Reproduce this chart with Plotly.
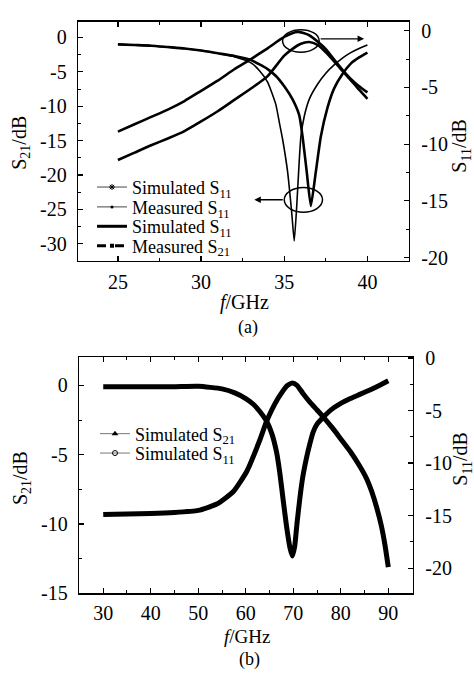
import plotly.graph_objects as go

# ---------------- data: panel (a) ----------------
# curves read against the left axis (sharp dips)
freq_a_sim = [25, 26, 27, 28, 29, 30, 31, 32, 33, 33.5, 34, 34.5, 34.7, 34.9, 35.2, 35.45, 35.6,
              35.75, 35.9, 36.0, 36.2, 36.5, 37, 37.5, 38, 38.5, 39, 39.5, 40]
s11_a_sim = [-1.0, -1.1, -1.2, -1.4, -1.6, -1.9, -2.3, -2.8, -3.7, -4.8, -6.5, -9.8, -12.3, -14.8, -19.5, -25.5,
             -29.6, -24.5, -18.0, -14.4, -11.5, -9.0, -6.8, -5.2, -4.0, -3.0, -2.2, -1.6, -1.1]
freq_a_meas = [25, 26, 27, 28, 29, 30, 31, 32, 33, 34, 34.5, 35, 35.5, 35.9, 36.1, 36.35, 36.6,
               36.9, 37.2, 37.6, 38, 38.5, 39, 39.5, 40]
s11_a_meas = [-1.0, -1.1, -1.2, -1.4, -1.6, -1.9, -2.3, -2.7, -3.3, -4.6, -5.6, -7.1, -9.0, -11.3, -14.4, -19.5,
              -24.5, -19.5, -14.4, -10.2, -7.4, -5.3, -3.8, -2.9, -2.2]
# curves read against the right axis (peaks)
freq_a_s21_sim = [25, 26, 27, 28, 29, 30, 31, 32, 33, 34, 35, 35.8, 36.5, 37, 37.5, 38, 38.5, 39, 39.5, 40]
s21_a_sim = [-8.9, -8.25, -7.6, -6.95, -6.2, -5.3, -4.4, -3.4, -2.5, -1.55, -0.55, -0.1, -0.4, -0.95, -1.62,
             -2.55, -3.45, -4.25, -4.9, -5.44]
freq_a_s21_meas = [25, 26, 27, 28, 29, 30, 31, 32, 33, 34, 35, 35.5, 36, 36.5, 37, 37.5, 38, 38.5, 39, 39.5, 40]
s21_a_meas = [-11.4, -10.75, -10.1, -9.5, -8.85, -8.0, -7.1, -6.1, -5.1, -4.0, -2.2, -1.6, -1.15, -1.0, -1.25,
              -1.9, -2.7, -3.55, -4.35, -5.2, -6.0]

# ---------------- data: panel (b) ----------------
freq_b_s21 = [30, 35, 40, 45, 50, 55, 57.7, 60, 61.6, 63, 64.4, 65.5, 66.5, 67.2, 67.9, 68.6, 69.3, 69.8,
              70.3, 70.8, 71.4, 72, 72.8, 73.5, 74.2, 75, 76.3, 78, 80, 82, 84, 86, 88, 90]
s21_b = [-0.1, -0.1, -0.1, -0.1, -0.07, -0.25, -0.54, -0.95, -1.36, -1.9, -2.59, -3.5, -4.85, -6.4, -8.35,
         -10.2, -11.7, -12.3, -11.6, -9.9, -8.1, -6.6, -5.2, -4.2, -3.35, -2.8, -2.3, -1.75, -1.3, -0.95,
         -0.65, -0.35, -0.02, 0.33]
freq_b_s11 = [30, 35, 40, 45, 50, 53.9, 57.4, 60.2, 63, 64.4, 66.5, 68.6, 69.8, 70.8, 72, 73.5, 75, 76.3,
              78.4, 80, 82, 84, 85.4, 86.5, 87.6, 88.5, 89.3, 90]
s11_b = [-14.9, -14.85, -14.8, -14.7, -14.5, -13.9, -12.7, -10.8, -7.76, -6.0, -4.06, -2.68, -2.37, -2.6,
         -3.35, -4.2, -4.95, -5.6, -6.75, -7.7, -8.9, -10.3, -11.45, -12.7, -14.3, -15.9, -17.8, -19.9]

# tick labels
a_x_ticks = [25, 30, 35, 40]
a_left_ticks = [0, -5, -10, -15, -20, -25, -30]
a_right_ticks = [0, -5, -10, -15, -20]
b_x_ticks = [30, 40, 50, 60, 70, 80, 90]
b_left_ticks = [0, -5, -10, -15]
b_right_ticks = [0, -5, -10, -15, -20]

legend_a_names = ["Simulated S<sub>11</sub>", "Measured S<sub>11</sub>",
                  "Simulated S<sub>11</sub>", "Measured S<sub>21</sub>"]
legend_b_names = ["Simulated S<sub>21</sub>", "Simulated S<sub>11</sub>"]

FONT = "Liberation Serif"
W, H = 474, 679


def px(x):
    return x / W


def py(y):
    return 1 - y / H


def lbl(v):
    return str(v)


fig = go.Figure()

# ---- panel (a) curves ----
fig.add_trace(go.Scatter(x=freq_a_sim, y=s11_a_sim, mode="lines", line=dict(color="black", width=1.6, shape="spline", smoothing=0.5),
                         xaxis="x", yaxis="y", showlegend=False, hoverinfo="skip"))
fig.add_trace(go.Scatter(x=freq_a_meas, y=s11_a_meas, mode="lines", line=dict(color="black", width=2.6, shape="spline", smoothing=0.5),
                         xaxis="x", yaxis="y", showlegend=False, hoverinfo="skip"))
fig.add_trace(go.Scatter(x=freq_a_s21_sim, y=s21_a_sim, mode="lines", line=dict(color="black", width=2.6, shape="spline", smoothing=0.6),
                         xaxis="x", yaxis="y2", showlegend=False, hoverinfo="skip"))
fig.add_trace(go.Scatter(x=freq_a_s21_meas, y=s21_a_meas, mode="lines", line=dict(color="black", width=2.6, shape="spline", smoothing=0.6),
                         xaxis="x", yaxis="y2", showlegend=False, hoverinfo="skip"))

# ---- panel (b) curves ----
fig.add_trace(go.Scatter(x=freq_b_s21, y=s21_b, mode="lines", line=dict(color="black", width=5, shape="spline", smoothing=0.5),
                         xaxis="x2", yaxis="y3", showlegend=False, hoverinfo="skip"))
fig.add_trace(go.Scatter(x=freq_b_s11, y=s11_b, mode="lines", line=dict(color="black", width=5, shape="spline", smoothing=0.5),
                         xaxis="x2", yaxis="y4", showlegend=False, hoverinfo="skip"))

# ---- legend-only entries ----
leg_styles_a = [
    dict(mode="lines+markers", line=dict(color="#444", width=1), marker=dict(symbol="asterisk-open", size=5, color="black")),
    dict(mode="lines+markers", line=dict(color="#444", width=1), marker=dict(symbol="circle", size=3, color="black")),
    dict(mode="lines", line=dict(color="black", width=3)),
    dict(mode="lines+markers", line=dict(color="black", width=3, dash="dash"), marker=dict(symbol="square", size=4, color="black")),
]
leg_rows_a = [183, 203.5, 223.5, 243.5]
leg_styles_b = [
    dict(mode="lines+markers", line=dict(color="#777", width=1), marker=dict(symbol="triangle-up", size=6, color="black")),
    dict(mode="lines+markers", line=dict(color="#777", width=1), marker=dict(symbol="circle-open", size=5, color="black", line=dict(width=1))),
]
leg_rows_b = [437.5, 457.5]

layout_legends = {}
k = 1
for name, st, yrow in zip(legend_a_names, leg_styles_a, leg_rows_a):
    key = "legend" if k == 1 else f"legend{k}"
    fig.add_trace(go.Scatter(x=[None], y=[None], name=name, legend=key, xaxis="x", yaxis="y", **st))
    layout_legends[key] = dict(x=px(92), y=py(yrow), xanchor="left", yanchor="middle",
                               bgcolor="rgba(0,0,0,0)", font=dict(family=FONT, size=18, color="black"))
    k += 1
for name, st, yrow in zip(legend_b_names, leg_styles_b, leg_rows_b):
    key = f"legend{k}"
    fig.add_trace(go.Scatter(x=[None], y=[None], name=name, legend=key, xaxis="x2", yaxis="y3", **st))
    layout_legends[key] = dict(x=px(95), y=py(yrow), xanchor="left", yanchor="middle",
                               bgcolor="rgba(0,0,0,0)", font=dict(family=FONT, size=18, color="black"))
    k += 1

tickfont = dict(family=FONT, size=20, color="black")
axis_common = dict(showgrid=False, zeroline=False, showline=True, linecolor="black", linewidth=1.3,
                   ticks="inside", ticklen=5, tickwidth=1.2, tickcolor="black", tickfont=tickfont)
minor = dict(ticks="inside", ticklen=3, tickwidth=1, tickcolor="black")

fig.update_layout(
    width=W, height=H, autosize=False,
    margin=dict(l=0, r=0, t=0, b=0),
    paper_bgcolor="white", plot_bgcolor="white",
    font=dict(family=FONT, color="black"),
    hovermode=False,
    xaxis=dict(domain=[px(78), px(409)], range=[22.6, 42.5], anchor="y", mirror="ticks",
               tickvals=a_x_ticks, ticktext=[lbl(v) for v in a_x_ticks], ticklabelstandoff=3,
               minor=dict(dtick=2.5, tick0=0, **minor), **axis_common),
    yaxis=dict(domain=[py(259), py(12)], range=[-32.5, 2.3], anchor="x",
               tickvals=a_left_ticks, ticktext=[lbl(v) for v in a_left_ticks], ticklabelstandoff=6,
               minor=dict(dtick=2.5, tick0=0, **minor), **axis_common),
    yaxis2=dict(range=[-20.3, 0.8], overlaying="y", side="right", anchor="x",
                tickvals=a_right_ticks, ticktext=[lbl(v) for v in a_right_ticks], ticklabelstandoff=7,
                minor=dict(dtick=2.5, tick0=0, **minor), **axis_common),
    xaxis2=dict(domain=[px(79), px(413)], range=[24.9, 95.2], anchor="y3", mirror="ticks",
                tickvals=b_x_ticks, ticktext=[lbl(v) for v in b_x_ticks], ticklabelstandoff=1,
                minor=dict(dtick=5, tick0=0, **minor), **axis_common),
    yaxis3=dict(domain=[py(602), py(358)], range=[-15, 2.05], anchor="x2",
                tickvals=b_left_ticks, ticktext=[lbl(v) for v in b_left_ticks], ticklabelstandoff=6,
                minor=dict(dtick=2.5, tick0=0, **minor), **axis_common),
    yaxis4=dict(range=[-22.4, 0.1], overlaying="y3", side="right", anchor="x2",
                tickvals=b_right_ticks, ticktext=[lbl(v) for v in b_right_ticks], ticklabelstandoff=7,
                minor=dict(dtick=2.5, tick0=0, **minor), **axis_common),
    **layout_legends,
)

# ---- ellipses and arrows in panel (a) ----
fig.add_shape(type="circle", xref="x", yref="y", x0=34.9, x1=37.1, y0=-2.15, y1=1.13,
              line=dict(color="black", width=1.5))
fig.add_shape(type="circle", xref="x", yref="y", x0=35.0, x1=37.3, y0=-25.4, y1=-21.8,
              line=dict(color="black", width=1.5))
fig.add_annotation(x=39.8, y=-0.2, ax=37.1, ay=-0.2, xref="x", yref="y", axref="x", ayref="y",
                   showarrow=True, arrowhead=2, arrowsize=1, arrowwidth=1.3, arrowcolor="black", text="")
fig.add_annotation(x=33.2, y=-23.6, ax=35.0, ay=-23.6, xref="x", yref="y", axref="x", ayref="y",
                   showarrow=True, arrowhead=2, arrowsize=1, arrowwidth=1.3, arrowcolor="black", text="")

# ---- titles and captions ----
texts = [
    ("<i>f</i>/GHz", 244, 302, 0, 20),
    ("(a)", 248, 328, 0, 18),
    ("<i>f</i>/GHz", 247, 646, 0, 19),
    ("(b)", 249, 670, 0, 18),
    ("S<sub>21</sub>/dB", 21, 137, -90, 20),
    ("S<sub>11</sub>/dB", 461, 140, -90, 20),
    ("S<sub>21</sub>/dB", 21, 483, -90, 20),
    ("S<sub>11</sub>/dB", 462, 463, -90, 20),
]
for t, x, y, ang, sz in texts:
    fig.add_annotation(text=t, x=px(x), y=py(y), xref="paper", yref="paper", showarrow=False,
                       textangle=ang, xanchor="center", yanchor="middle",
                       font=dict(family=FONT, size=sz, color="black"))

fig.write_html("out.html", config={"displayModeBar": False, "staticPlot": True},
               post_script="document.body.style.margin='0';document.body.style.overflow='hidden';")
